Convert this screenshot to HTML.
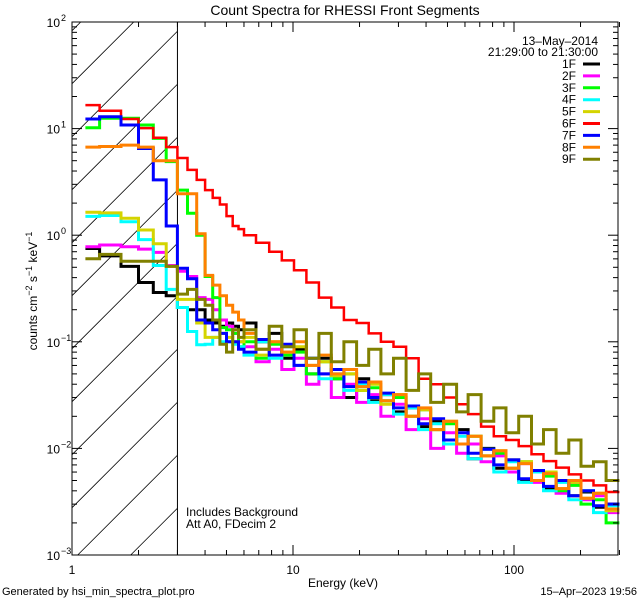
<!DOCTYPE html>
<html><head><meta charset="utf-8"><style>
html,body{margin:0;padding:0;background:#fff;}
svg text{font-family:"Liberation Sans",sans-serif;fill:#000;}
</style></head><body>
<svg id="chart" width="640" height="600" viewBox="0 0 640 600" xmlns="http://www.w3.org/2000/svg">
<rect width="640" height="600" fill="#fff"/>
<g id="hatch"></g>
<g id="series"></g>
<g id="axes"></g>
<text x="345" y="15" font-size="14" text-anchor="middle">Count Spectra for RHESSI Front Segments</text>
<text x="598" y="45" font-size="12" text-anchor="end">13–May–2014</text>
<text x="598" y="56" font-size="12" text-anchor="end">21:29:00 to 21:30:00</text>
<g id="legend"></g>
<text transform="translate(37,291) rotate(-90)" font-size="12" text-anchor="middle">counts cm<tspan dy="-5" font-size="9">−2</tspan><tspan dy="5"> s</tspan><tspan dy="-5" font-size="9">−1</tspan><tspan dy="5"> keV</tspan><tspan dy="-5" font-size="9">−1</tspan></text>
<text x="343" y="587" font-size="12" text-anchor="middle">Energy (keV)</text>
<text x="186" y="516" font-size="12">Includes Background</text>
<text x="186" y="528" font-size="12">Att A0, FDecim 2</text>
<text x="2" y="595" font-size="11">Generated by hsi_min_spectra_plot.pro</text>
<text x="637" y="595" font-size="11" text-anchor="end">15–Apr–2023 19:56</text>
</svg>
<script>
const edges=[1.15,1.333,1.667,2,2.333,2.667,3,3.333,3.667,4,4.333,4.667,5,5.333,5.667,6,6.8,7.8,8.9,10.1,11.5,13.1,14.9,17,19.4,22,25,28.5,32.5,37,42,48,55,62,71,81,92,105,120,136,155,177,201,229,261,300];
const seriesNames=["1F","2F","3F","4F","5F","6F","7F","8F","9F"];
const seriesColors=["#000000","#ff00ff","#00ff00","#00ffff","#d4d400","#ff0000","#0000ff","#ff8000","#808000"];
const s1F=[0.75,0.64,0.51,0.36,0.29,0.27,0.21,0.2,0.2,0.16,0.15,0.14,0.15,0.14,0.13,0.15,0.1,0.12,0.07,0.085,0.05,0.07,0.045,0.03,0.045,0.028,0.032,0.022,0.024,0.016,0.018,0.011,0.015,0.008,0.01,0.0065,0.0078,0.005,0.0062,0.0042,0.005,0.0036,0.0039,0.0028,0.003];
const s2F=[0.78,0.81,0.78,0.74,0.69,0.52,0.46,0.41,0.26,0.25,0.2,0.16,0.14,0.12,0.1,0.09,0.065,0.085,0.055,0.07,0.04,0.05,0.03,0.04,0.027,0.032,0.02,0.026,0.015,0.019,0.01,0.014,0.009,0.011,0.0075,0.0085,0.006,0.0072,0.0048,0.0058,0.0038,0.0046,0.0033,0.0036,0.0025];
const s3F=[10.2,12.5,12.5,10.8,8.1,4.9,2.65,1.61,1.0,0.41,0.26,0.136,0.13,0.12,0.09,0.1,0.07,0.095,0.075,0.08,0.05,0.065,0.045,0.05,0.035,0.037,0.028,0.03,0.02,0.023,0.015,0.017,0.011,0.013,0.0085,0.009,0.0065,0.0075,0.005,0.0055,0.004,0.0045,0.003,0.0033,0.002];
const s4F=[1.5,1.53,1.34,0.91,0.52,0.31,0.21,0.125,0.094,0.095,0.11,0.1,0.1,0.095,0.09,0.075,0.1,0.07,0.09,0.06,0.07,0.045,0.05,0.035,0.04,0.027,0.032,0.021,0.024,0.015,0.017,0.011,0.013,0.008,0.0098,0.006,0.0075,0.0048,0.006,0.004,0.0048,0.0033,0.004,0.0025,0.0029];
const s5F=[1.64,1.62,1.44,1.12,0.83,0.51,0.25,0.25,0.15,0.11,0.11,0.12,0.11,0.1,0.1,0.11,0.075,0.1,0.08,0.09,0.06,0.065,0.048,0.05,0.035,0.04,0.026,0.032,0.02,0.023,0.015,0.018,0.011,0.013,0.0085,0.0095,0.0065,0.0075,0.005,0.006,0.0042,0.0048,0.0034,0.0038,0.0026];
const s6F=[16.6,14.7,12.3,10.1,8.2,6.7,5.3,4.1,3.3,2.65,2.24,1.94,1.51,1.22,1.14,1.0,0.85,0.7,0.58,0.47,0.36,0.26,0.21,0.16,0.15,0.12,0.1,0.09,0.07,0.045,0.04,0.03,0.026,0.021,0.016,0.013,0.012,0.0105,0.0088,0.0076,0.0066,0.0057,0.005,0.0045,0.0039];
const s7F=[12.3,12.9,10.8,6.5,3.3,1.22,0.49,0.39,0.16,0.15,0.13,0.12,0.1,0.1,0.085,0.08,0.105,0.075,0.095,0.06,0.07,0.05,0.055,0.038,0.042,0.03,0.033,0.024,0.025,0.017,0.019,0.012,0.014,0.009,0.0098,0.007,0.0078,0.0052,0.0062,0.0044,0.005,0.0036,0.004,0.0029,0.003];
const s8F=[6.7,6.8,7.0,6.7,5.0,5.0,2.45,2.45,1.03,0.42,0.34,0.27,0.22,0.19,0.16,0.12,0.085,0.1,0.08,0.1,0.06,0.075,0.05,0.055,0.038,0.042,0.028,0.032,0.02,0.024,0.015,0.018,0.011,0.013,0.0085,0.0095,0.0065,0.0072,0.005,0.0058,0.0042,0.005,0.0034,0.0038,0.0027];
const s9F=[0.6,0.66,0.57,0.57,0.57,0.51,0.28,0.31,0.25,0.22,0.16,0.095,0.08,0.13,0.11,0.13,0.085,0.14,0.09,0.13,0.07,0.12,0.065,0.1,0.06,0.085,0.05,0.07,0.035,0.05,0.027,0.04,0.022,0.032,0.018,0.024,0.014,0.02,0.011,0.015,0.009,0.012,0.0068,0.0075,0.005];
const seriesValues=[s1F,s2F,s3F,s4F,s5F,s6F,s7F,s8F,s9F];
const yTickExps=[2,1,0,-1,-2,-3];
const xTickLabels=["1","10","100"];
const xTickVals=[1,10,100];

const NS="http://www.w3.org/2000/svg";
const X0=72,X1=618,Y0=22,Y1=555;
const DX=221, DY=106.6;
function xs(e){return X0+Math.log10(e)*DX;}
function ys(v){return Y0+(2-Math.log10(v))*DY;}
function mk(tag,attrs,parent){const el=document.createElementNS(NS,tag);for(const k in attrs)el.setAttribute(k,attrs[k]);parent.appendChild(el);return el;}

const hatch=document.getElementById('hatch');
const hx0=X0,hx1=xs(3);
for(let c=155.7-53*10;c<1000;c+=53){
  let ya=c-hx0, yb=c-hx1;
  let xa=hx0,xb=hx1;
  if(ya>Y1){ya=Y1;xa=c-Y1;} if(ya<Y0)continue;
  if(yb<Y0){yb=Y0;xb=c-Y0;} if(yb>Y1)continue;
  if(xa>=xb)continue;
  const l=mk('line',{x1:xa,y1:ya,x2:xb,y2:yb,stroke:'#000','stroke-width':0.8},hatch);
  
  
}
const vl=mk('line',{x1:hx1,y1:Y0,x2:hx1,y2:Y1,stroke:'#000','stroke-width':1},hatch);



const sg=document.getElementById('series');
seriesValues.forEach((vals,i)=>{
  let d='';
  for(let b=0;b<vals.length;b++){
    const xa=xs(edges[b]).toFixed(1), xb=xs(edges[b+1]).toFixed(1), y=ys(vals[b]).toFixed(1);
    d+=(b===0?'M':'L')+xa+','+y+'L'+xb+','+y;
  }
  const p=mk('path',{d:d,fill:'none',stroke:seriesColors[i],'stroke-width':i===5?2.5:3,'stroke-linejoin':'miter'},sg);
  
  
});

const ax=document.getElementById('axes');
const frame=mk('rect',{x:X0,y:Y0,width:X1-X0,height:Y1-Y0,fill:'none',stroke:'#000','stroke-width':1},ax);


for(let e=-3;e<2;e++){
  for(let m=1;m<10;m++){
    const v=m*Math.pow(10,e); const y=ys(v); const L=m===1?10:5;
    mk('line',{x1:X0,y1:y,x2:X0+L,y2:y,stroke:'#000'},ax);
    mk('line',{x1:X1,y1:y,x2:X1-L,y2:y,stroke:'#000'},ax);
  }
}
for(let e=0;e<3;e++){
  for(let m=1;m<10;m++){
    const v=m*Math.pow(10,e); if(v>300)break; const x=xs(v); const L=m===1?10:5;
    mk('line',{x1:x,y1:Y1,x2:x,y2:Y1-L,stroke:'#000'},ax);
    mk('line',{x1:x,y1:Y0,x2:x,y2:Y0+L,stroke:'#000'},ax);
  }
}
yTickExps.forEach(e=>{
  const y=ys(Math.pow(10,e));
  const t=mk('text',{x:60,y:y+5,'font-size':12,'text-anchor':'end'},ax);
  t.textContent='10';
  
  
  const s=mk('text',{x:61,y:y-1,'font-size':9},ax);
  s.textContent=e<0?'−'+(-e):String(e);
  
  
});
xTickVals.forEach((v,i)=>{
  const t=mk('text',{x:xs(v),y:574,'font-size':12,'text-anchor':'middle'},ax);
  t.textContent=xTickLabels[i];
  
  
});

const lg=document.getElementById('legend');
seriesNames.forEach((n,i)=>{
  const y=64+i*11.9;
  const t=mk('text',{x:576,y:y+4,'font-size':12,'text-anchor':'end'},lg);
  t.textContent=n;
  
  
  const l=mk('line',{x1:583,y1:y,x2:600,y2:y,stroke:seriesColors[i],'stroke-width':3},lg);
  
  
});
</script>
</body></html>
